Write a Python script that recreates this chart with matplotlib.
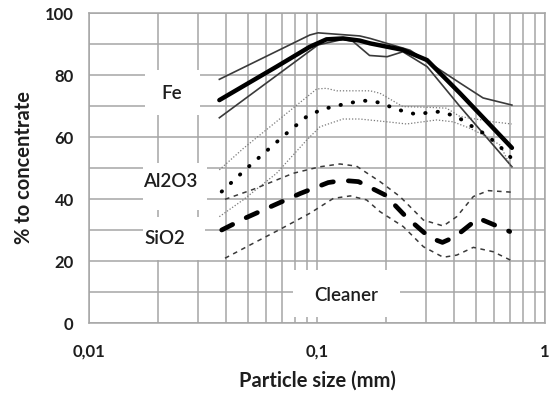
import matplotlib
matplotlib.use("Agg")
import matplotlib.pyplot as plt
from matplotlib.patches import Rectangle
from matplotlib.ticker import FixedLocator, LogLocator, NullFormatter

plt.rcParams['font.family'] = ['Lato', 'DejaVu Sans']

# Fe
fe_x = [0.0373, 0.0665, 0.093, 0.11, 0.13, 0.154, 0.171, 0.238, 0.304, 0.424, 0.716]
fe_mean = [71.9, 82.7, 89.1, 91.5, 91.8, 91.1, 90.2, 88.1, 84.8, 74.1, 56.5]
fe_up_x = [0.0373, 0.093, 0.101, 0.154, 0.171, 0.256, 0.424, 0.535, 0.716]
fe_up = [78.6, 92.9, 93.6, 92.6, 91.8, 88.0, 77.4, 72.6, 70.3]
fe_lo_x = [0.0373, 0.101, 0.13, 0.144, 0.17, 0.203, 0.238, 0.304, 0.424, 0.716]
fe_lo = [66.2, 89.7, 91.5, 90.8, 86.3, 85.9, 87.5, 82.7, 69.8, 50.4]

# Al2O3
al_x = [0.0382, 0.0492, 0.0643, 0.0736, 0.0901, 0.105, 0.126, 0.149, 0.162, 0.189,
        0.224, 0.269, 0.346, 0.41, 0.477, 0.555, 0.635, 0.714]
al_mean = [42.4, 49.9, 57.4, 61.2, 66.6, 68.9, 70.3, 71.4, 71.7, 71.1,
           68.9, 67.4, 68.2, 66.6, 63.5, 60.6, 56.9, 53.1]
al_up_x = [0.0373, 0.0475, 0.0997, 0.11, 0.122, 0.171, 0.189, 0.238, 0.302, 0.37,
           0.424, 0.592, 0.714]
al_up = [49.4, 56.3, 75.5, 75.7, 74.9, 74.9, 74.1, 69.8, 69.6, 69.3, 66.6, 64.9, 64.2]
al_lo_x = [0.0373, 0.0474, 0.0665, 0.0901, 0.1031, 0.13, 0.154, 0.203, 0.247, 0.335,
           0.395, 0.469, 0.555, 0.635, 0.714]
al_lo = [34.3, 39.7, 48.3, 59.0, 63.3, 65.8, 65.8, 64.9, 64.2, 65.5,
         64.9, 62.8, 60.1, 57.4, 50.0]

# SiO2
si_x = [0.0382, 0.0483, 0.0643, 0.0846, 0.112, 0.13, 0.152, 0.199, 0.247, 0.313,
        0.355, 0.403, 0.51, 0.668, 0.70]
si_mean = [30.0, 33.8, 37.9, 41.8, 45.3, 46.0, 45.6, 41.3, 34.1, 27.5,
           26.0, 27.8, 33.8, 30.2, 29.5]
si_up_x = [0.0395, 0.0525, 0.0787, 0.1031, 0.126, 0.149, 0.189, 0.231, 0.293, 0.358,
           0.41, 0.485, 0.564, 0.714]
si_up = [39.9, 43.1, 48.3, 50.4, 51.3, 50.6, 45.6, 40.8, 33.2, 31.3,
         34.3, 40.8, 42.7, 42.2]
si_lo_x = [0.0395, 0.0525, 0.0688, 0.0931, 0.118, 0.14, 0.165, 0.189, 0.239, 0.293,
           0.358, 0.41, 0.485, 0.592, 0.714]
si_lo = [20.9, 25.7, 30.2, 35.4, 40.2, 41.0, 39.7, 35.9, 31.1, 24.6,
         21.2, 21.9, 24.4, 23.0, 20.1]

y_ticks = [0, 20, 40, 60, 80, 100]
x_ticks = [0.01, 0.1, 1]
x_tick_labels = ["0,01", "0,1", "1"]

fig = plt.figure(figsize=(5.53, 3.94), dpi=100)
ax = fig.add_axes([89 / 553, 1 - 323 / 394, 456 / 553, 310 / 394])
ax.set_xscale("log")
ax.set_xlim(0.01, 1)
ax.set_ylim(0, 100)

grid_c = "#a6a6a6"
ax.xaxis.set_major_locator(FixedLocator(x_ticks))
ax.xaxis.set_minor_locator(LogLocator(base=10, subs=range(2, 10)))
ax.xaxis.set_minor_formatter(NullFormatter())
ax.set_xticklabels(x_tick_labels)
ax.set_yticks(y_ticks)
ax.set_yticks(range(10, 100, 20), minor=True)
ax.grid(True, which="both", color=grid_c, lw=1.1)
ax.set_axisbelow(True)
for s in ax.spines.values():
    s.set_color(grid_c)
    s.set_linewidth(1.1)
ax.tick_params(which="both", length=0)
ax.tick_params(axis="x", which="major", pad=15, labelsize=12)
ax.tick_params(axis="y", which="major", pad=11, labelsize=12)
for lab in ax.get_xticklabels() + ax.get_yticklabels():
    lab.set_fontweight("bold")
    lab.set_color("#1e1e1e")

# Fe
ax.plot(fe_up_x, fe_up, color="#3a3a3a", lw=1.2, zorder=3)
ax.plot(fe_lo_x, fe_lo, color="#3a3a3a", lw=1.2, zorder=3)
ax.plot(fe_x, fe_mean, color="black", lw=3.2, zorder=4, solid_capstyle="round")

# Al2O3
ax.plot(al_up_x, al_up, color="#7a7a7a", lw=0.9, ls=(0, (1, 1.5)), zorder=3)
ax.plot(al_lo_x, al_lo, color="#7a7a7a", lw=0.9, ls=(0, (1, 1.5)), zorder=3)
ax.plot(al_x, al_mean, color="black", lw=2.8, ls=(0, (0.1, 3.1)),
        dash_capstyle="round", zorder=4)

# SiO2
ax.plot(si_up_x, si_up, color="#3a3a3a", lw=1.1, ls=(0, (3, 3)), zorder=3)
ax.plot(si_lo_x, si_lo, color="#3a3a3a", lw=1.1, ls=(0, (3, 3)), zorder=3)
ax.plot(si_x, si_mean, color="black", lw=3.4, ls=(0, (2.6, 3.2)),
        dash_capstyle="round", zorder=4)

# white label boxes
boxes = [(0.123, 0.671, 0.120, 0.145), (0.118, 0.365, 0.141, 0.151),
         (0.118, 0.203, 0.136, 0.139), (0.447, 0.019, 0.235, 0.152)]
for bx, by, bw, bh in boxes:
    ax.add_patch(Rectangle((bx, by), bw, bh, transform=ax.transAxes,
                           facecolor="white", edgecolor="none", zorder=2))

lab_kw = dict(fontsize=13.5, color="#1e1e1e", ha="center", va="center",
              fontweight="semibold", zorder=5)
ax.text(0.0231, 74.1, "Fe", **lab_kw)
ax.text(0.0226, 45.5, "Al2O3", **lab_kw)
ax.text(0.0216, 27.1, "SiO2", **lab_kw)
ax.text(0.135, 9.0, "Cleaner", **lab_kw)

ax.set_xlabel("Particle size (mm)", fontsize=14.5, fontweight="bold", color="#1e1e1e", labelpad=8)
ax.set_ylabel("% to concentrate", fontsize=14.5, fontweight="bold", color="#1e1e1e", labelpad=8)

fig.savefig("out.png", dpi=100)
